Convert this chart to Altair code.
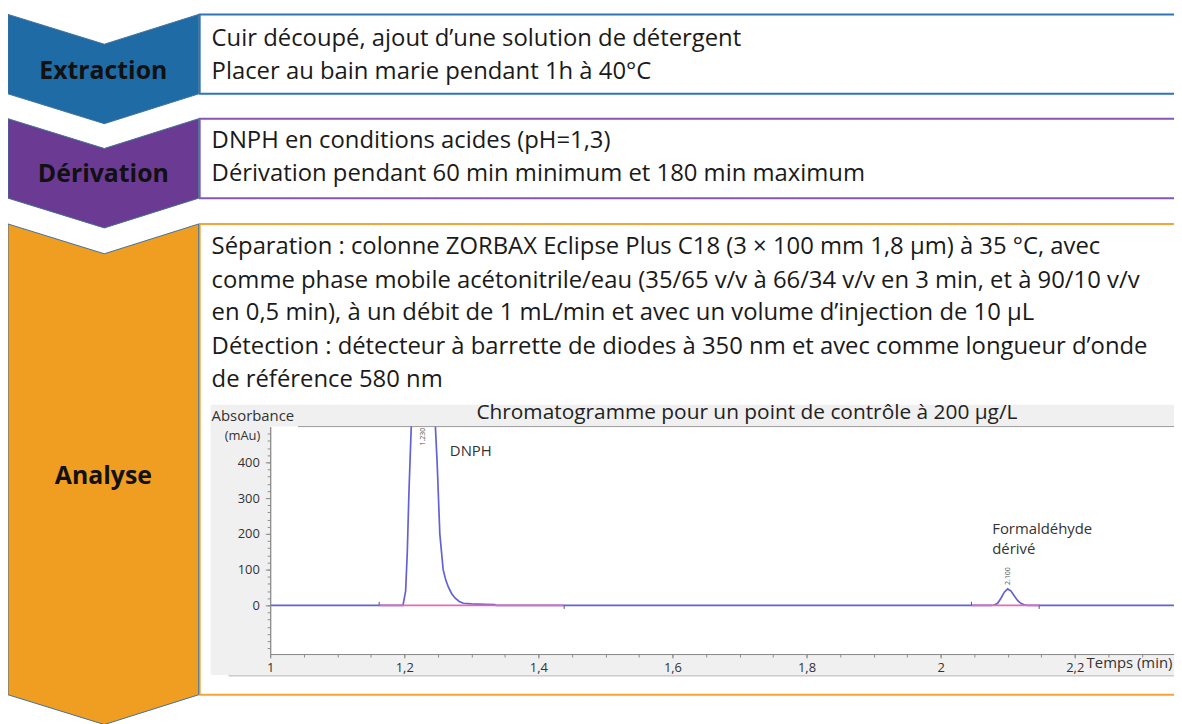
import altair as alt
import pandas as pd

FONT = "Open Sans"

# ---------------- chromatogram data ----------------
trace_time = [1.000, 1.198, 1.2020, 1.2045, 1.207, 1.2104,
              1.2464, 1.249, 1.253, 1.258, 1.262, 1.266, 1.271, 1.276, 1.282, 1.288,
              1.300, 1.320, 1.335, 1.337,
              2.075, 2.080, 2.085, 2.090, 2.095, 2.100, 2.105, 2.110, 2.115, 2.120,
              2.125, 2.130, 2.348]
trace_abs = [0, 0, 40, 150, 320, 500,
             500, 400, 200, 100, 70, 50, 32, 20, 11, 6,
             4, 3, 2.5, 0,
             0, 1, 6, 20, 37, 46, 40, 26, 13, 5,
             1.5, 0, 0]
trace_part = ["rise"] * 6 + ["fall"] * 27

baseline_start = [1.1625, 2.046]
baseline_end = [1.4385, 2.147]

marker_time = [1.1625, 1.4385, 2.046, 2.147]
marker_abs = [10, -10, 10, -10]

peak_rt_text = ["1.230", "2.100"]
peak_rt_time = [1.228, 2.100]
peak_rt_abs = [472, 82]

peak_names = ["DNPH", "Formaldéhyde", "dérivé"]
peak_name_time = [1.268, 2.077, 2.077]
peak_name_abs = [433, 214, 158]

x_minor_ticks = [1.0, 1.05, 1.1, 1.15, 1.2, 1.25, 1.3, 1.35, 1.4, 1.45, 1.5, 1.55,
                 1.6, 1.65, 1.7, 1.75, 1.8, 1.85, 1.9, 1.95, 2.0, 2.05, 2.1, 2.15,
                 2.2, 2.25, 2.3]
x_label_values = [1.0, 1.2, 1.4, 1.6, 1.8, 2.0, 2.2]
y_minor_ticks = [-120, -100, -80, -60, -40, -20, 0, 20, 40, 60, 80, 100, 120, 140,
                 160, 180, 200, 220, 240, 260, 280, 300, 320, 340, 360, 380, 400,
                 420, 440, 460, 480]
y_label_values = [0, 100, 200, 300, 400]

# ---------------- diagram content ----------------
step_names = ["Extraction", "Dérivation", "Analyse"]
step_fill = ["#1F6BA6", "#6B3A93", "#F09E22"]
step_border = ["#2E75B6", "#8657B3", "#F5A537"]

box_lines = [
    "Cuir découpé, ajout d’une solution de détergent",
    "Placer au bain marie pendant 1h à 40°C",
    "DNPH en conditions acides (pH=1,3)",
    "Dérivation pendant 60 min minimum et 180 min maximum",
    "Séparation : colonne ZORBAX Eclipse Plus C18 (3 × 100 mm 1,8 µm) à 35 °C, avec",
    "comme phase mobile acétonitrile/eau (35/65 v/v à 66/34 v/v en 3 min, et à 90/10 v/v",
    "en 0,5 min), à un débit de 1 mL/min et avec un volume d’injection de 10 µL",
    "Détection : détecteur à barrette de diodes à 350 nm et avec comme longueur d’onde",
    "de référence 580 nm",
]
chart_title = "Chromatogramme pour un point de contrôle à 200 µg/L"
y_axis_title = ["Absorbance", "(mAu)"]
x_axis_title = "Temps (min)"

# ---------------- layout (page pixel coordinates) ----------------
W, H = 1174, 716
chev_x = [8, 105, 200]
chev_top = [[12, 42, 12], [117, 147, 117], [223, 253, 223]]
chev_bot = [[92, 122, 92], [197, 227, 197], [697, 727, 697]]
chev_label_y = [69, 173, 477]
box_top = [12, 117, 223]
box_bot = [92, 197, 697]
line_y = [37, 70, 140, 173, 246, 280, 313, 347, 380]

cx = alt.Scale(domain=[8, 8 + W], range=[0, W], nice=False, zero=False)
cy = alt.Scale(domain=[8, 8 + H], range=[0, H], nice=False, zero=False)

chev_rows = []
for i, n in enumerate(step_names):
    for j in range(3):
        chev_rows.append(dict(step=n, px=chev_x[j], top=chev_top[i][j],
                              bot=chev_bot[i][j], fill=step_fill[i]))
chev_df = pd.DataFrame(chev_rows)

box_df = pd.DataFrame(dict(x0=[201] * 3, x1=[1190] * 3, y0=box_top, y1=box_bot,
                           col=step_border))

boxes = alt.Chart(box_df).mark_rect(fill="white", strokeWidth=2).encode(
    x=alt.X("x0:Q", scale=cx, axis=None), x2="x1:Q",
    y=alt.Y("y0:Q", scale=cy, axis=None), y2="y1:Q",
    stroke=alt.Stroke("col:N", scale=None),
)

chevrons = alt.Chart(chev_df).mark_area(stroke="#41719C", strokeWidth=1,
                                        orient="vertical").encode(
    x=alt.X("px:Q", scale=cx, axis=None),
    y=alt.Y("top:Q", scale=cy, axis=None, stack=None), y2="bot:Q",
    fill=alt.Fill("fill:N", scale=None),
    detail="step:N",
)

chev_labels = alt.Chart(pd.DataFrame(dict(t=step_names, px=[104] * 3, py=chev_label_y))
                        ).mark_text(font=FONT, fontSize=25, fontWeight="bold",
                                    color="#111111", baseline="middle").encode(
    x=alt.X("px:Q", scale=cx, axis=None), y=alt.Y("py:Q", scale=cy, axis=None), text="t:N")

lines_txt = alt.Chart(pd.DataFrame(dict(t=box_lines, px=[213] * len(box_lines), py=line_y))
                      ).mark_text(font=FONT, fontSize=24, align="left", baseline="middle",
                                  color="#1a1a1a").encode(
    x=alt.X("px:Q", scale=cx, axis=None), y=alt.Y("py:Q", scale=cy, axis=None), text="t:N")

panel_df = pd.DataFrame(dict(x0=[212, 272], x1=[1190, 1190], y0=[405, 427], y1=[677, 656],
                             col=["#F0F0F0", "#FFFFFF"]))
panel = alt.Chart(panel_df).mark_rect().encode(
    x=alt.X("x0:Q", scale=cx, axis=None), x2="x1:Q",
    y=alt.Y("y0:Q", scale=cy, axis=None), y2="y1:Q",
    fill=alt.Fill("col:N", scale=None))

rules_df = pd.DataFrame(dict(x0=[300, 230], x1=[1190, 1190], y0=[427, 678], col=["#9a9a9a", "#b0b0b0"]))
panel_rules = alt.Chart(rules_df).mark_rule(strokeWidth=1).encode(
    x=alt.X("x0:Q", scale=cx, axis=None), x2="x1:Q",
    y=alt.Y("y0:Q", scale=cy, axis=None),
    color=alt.Color("col:N", scale=None))

title_txt = alt.Chart(pd.DataFrame(dict(t=[chart_title], px=[752], py=[413]))).mark_text(
    font=FONT, fontSize=21, color="#222222", baseline="middle").encode(
    x=alt.X("px:Q", scale=cx, axis=None), y=alt.Y("py:Q", scale=cy, axis=None), text="t:N")

ytitle1 = alt.Chart(pd.DataFrame(dict(t=[y_axis_title[0]], px=[213], py=[416]))).mark_text(
    font=FONT, fontSize=15, color="#333333", baseline="middle", align="left").encode(
    x=alt.X("px:Q", scale=cx, axis=None), y=alt.Y("py:Q", scale=cy, axis=None), text="t:N")
ytitle2 = alt.Chart(pd.DataFrame(dict(t=[y_axis_title[1]], px=[262], py=[437]))).mark_text(
    font=FONT, fontSize=13, color="#333333", baseline="middle", align="right").encode(
    x=alt.X("px:Q", scale=cx, axis=None), y=alt.Y("py:Q", scale=cy, axis=None), text="t:N")

xtitle = alt.Chart(pd.DataFrame(dict(t=[x_axis_title], px=[1094], py=[665]))).mark_text(
    font=FONT, fontSize=15, color="#333333", baseline="middle", align="left").encode(
    x=alt.X("px:Q", scale=cx, axis=None), y=alt.Y("py:Q", scale=cy, axis=None), text="t:N")

canvas = alt.layer(boxes, chevrons, chev_labels, lines_txt, panel, panel_rules,
                   title_txt, ytitle1, ytitle2, xtitle)

# ---------------- chromatogram ----------------
def tx():
    return alt.Scale(domain=[1.0, 2.3481], range=[264, W], nice=False, zero=False)


def ty():
    return alt.Scale(domain=[-136, 500], range=[648, 419], nice=False, zero=False)


AX = dict(grid=False, title=None, domainColor="#8c8c8c", tickColor="#8c8c8c",
          labelFont=FONT, labelFontSize=13, labelColor="#333333", zindex=2)

x_axis = alt.Axis(values=x_label_values, orient="bottom", offset=-(H - 648),
                  labelExpr="replace(toString(datum.value), '.', ',')",
                  tickSize=4, labelPadding=4, labelOverlap=False, labelFlush=False, **AX)
y_axis = alt.Axis(values=y_label_values, orient="left", offset=-264, tickSize=5,
                  labelPadding=6, labelOverlap=False, **AX)
x_minor_axis = alt.Axis(values=x_minor_ticks, orient="bottom", offset=-(H - 648),
                        labels=False, tickSize=3, **AX)
y_minor_axis = alt.Axis(values=y_minor_ticks, orient="left", offset=-264,
                        labels=False, tickSize=3, **AX)

trace_df = pd.DataFrame(dict(t=trace_time, a=trace_abs, part=trace_part))

# layer that carries the labelled axes
major = alt.Chart(trace_df).mark_point(opacity=0).encode(
    x=alt.X("t:Q", scale=tx(), axis=x_axis),
    y=alt.Y("a:Q", scale=ty(), axis=y_axis))

# layer that carries the minor tick marks
minor = alt.Chart(trace_df).mark_point(opacity=0).encode(
    x=alt.X("t:Q", scale=tx(), axis=x_minor_axis),
    y=alt.Y("a:Q", scale=ty(), axis=y_minor_axis))

trace = alt.Chart(trace_df).mark_line(color="#6262D2", strokeWidth=1.7).encode(
    x=alt.X("t:Q", scale=tx(), axis=None),
    y=alt.Y("a:Q", scale=ty(), axis=None),
    detail="part:N", order="t:Q")

base_df = pd.DataFrame(dict(t0=baseline_start, t1=baseline_end, a=[0, 0]))
baseline = alt.Chart(base_df).mark_rule(color="#E46AB8", strokeWidth=1.6).encode(
    x=alt.X("t0:Q", scale=tx(), axis=None), x2="t1:Q",
    y=alt.Y("a:Q", scale=ty(), axis=None))

mk_df = pd.DataFrame(dict(t=marker_time, a=marker_abs, z=[0] * 4))
markers = alt.Chart(mk_df).mark_rule(color="#555577", strokeWidth=1).encode(
    x=alt.X("t:Q", scale=tx(), axis=None), y=alt.Y("z:Q", scale=ty(), axis=None), y2="a:Q")

rt_df = pd.DataFrame(dict(t=peak_rt_time, a=peak_rt_abs, s=peak_rt_text))
rt_txt = alt.Chart(rt_df).mark_text(font=FONT, fontSize=7, angle=270, color="#555555",
                                    baseline="middle").encode(
    x=alt.X("t:Q", scale=tx(), axis=None), y=alt.Y("a:Q", scale=ty(), axis=None), text="s:N")

nm_df = pd.DataFrame(dict(t=peak_name_time, a=peak_name_abs, s=peak_names))
nm_txt = alt.Chart(nm_df).mark_text(font=FONT, fontSize=15, align="left", baseline="middle",
                                    color="#333333").encode(
    x=alt.X("t:Q", scale=tx(), axis=None), y=alt.Y("a:Q", scale=ty(), axis=None), text="s:N")

chart = alt.layer(canvas, minor, major, trace, baseline, markers, rt_txt, nm_txt).resolve_scale(
    x="independent", y="independent").resolve_axis(x="independent", y="independent").properties(
    width=W, height=H, autosize=alt.AutoSizeParams(type="none"), padding=0
).configure_view(strokeWidth=0)

chart.save("out.html", embed_options={"renderer": "svg", "actions": False})
